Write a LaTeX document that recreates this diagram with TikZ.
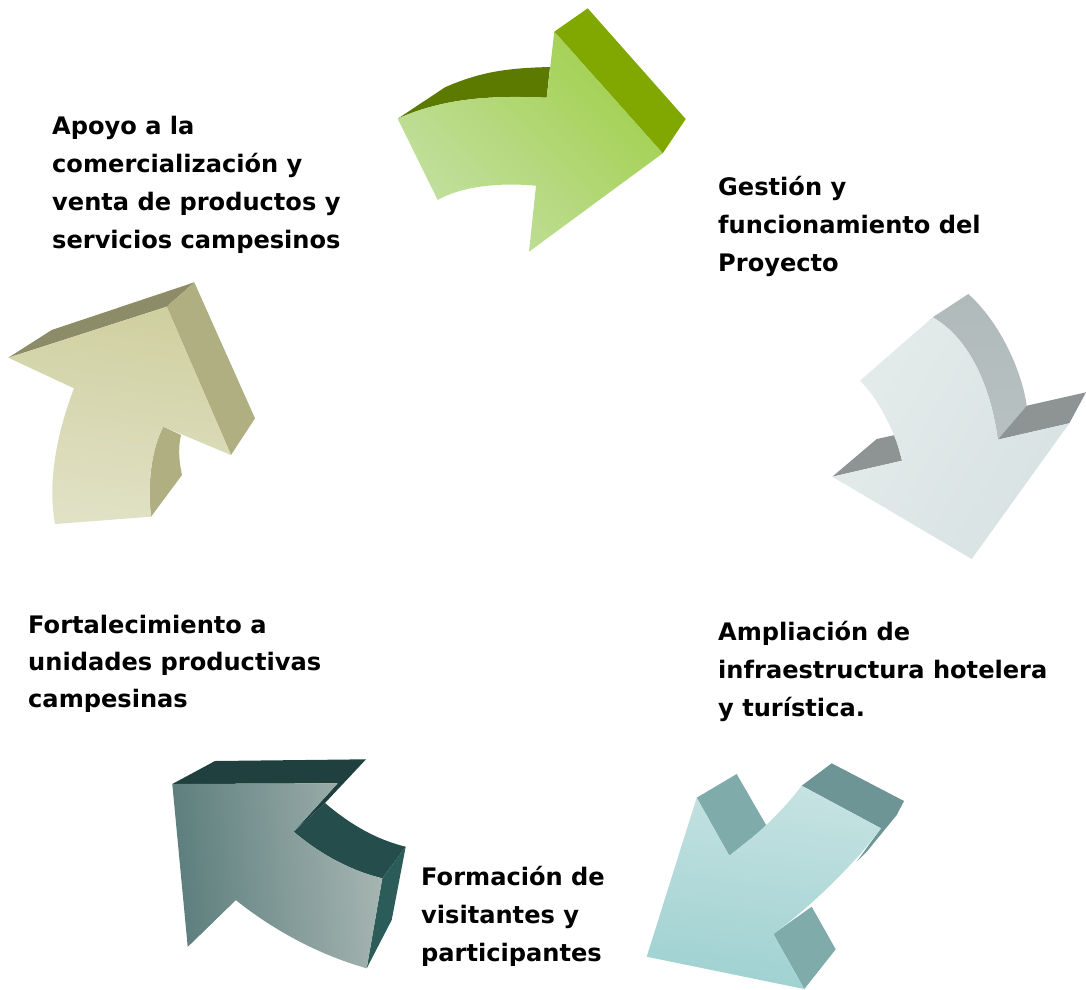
\documentclass[tikz,border=0pt]{standalone}
\usepackage{fontspec}
\setmainfont{DejaVu Sans}
\tikzset{
  x=1pt,y=-1pt,
  lab/.style={anchor=north west,inner sep=0pt,align=left,text=black,font=\bfseries\fontsize{24.1}{38}\selectfont}
}
\definecolor{gA}{HTML}{80A800}\definecolor{gB}{HTML}{5C7A00}\definecolor{gL}{HTML}{C3E0A2}\definecolor{gM}{HTML}{A2D04E}
\definecolor{sA}{HTML}{B0BABA}\definecolor{sB}{HTML}{8E9494}\definecolor{sL}{HTML}{E4EBEB}\definecolor{sM}{HTML}{D8E2E2}
\definecolor{tA}{HTML}{6D9595}\definecolor{tB}{HTML}{7FABAA}\definecolor{tL}{HTML}{C6E2E2}\definecolor{tM}{HTML}{9FD1D1}
\definecolor{dA}{HTML}{1F403F}\definecolor{dB}{HTML}{254D4B}\definecolor{dC}{HTML}{2C5C5A}\definecolor{dL}{HTML}{5B7D7C}\definecolor{dM}{HTML}{A6B5B2}
\definecolor{oA}{HTML}{AFAF82}\definecolor{oB}{HTML}{8C8C68}\definecolor{oL}{HTML}{CFD0A0}\definecolor{oM}{HTML}{E1E1C6}
\begin{document}
\begin{tikzpicture}
\useasboundingbox (0,0) rectangle (1086,989);
% green arrow
\fill[gB] (397.7,118.7) -- (445,87.3) .. controls (482,71) and (510,68) .. (550,67) -- (546.7,97.7) .. controls (497,95.6) and (446,96.7) .. (397.7,118.7) -- cycle;
\fill[gA] (554.3,31.7) -- (587.7,8.3) -- (685.7,119) -- (662.7,153.3) -- cycle;
\shade[left color=gL,right color=gM,shading angle=135] (397.7,118.7) .. controls (446,96.7) and (497,95.6) .. (546.7,97.7) -- (554.3,31.7) -- (662.7,153.3) -- (529,251.7) -- (536,185.7) .. controls (494.4,181.9) and (458.8,187.7) .. (437.7,200) -- cycle;
% grey arrow
\shade[top color=sA,bottom color=sA!90!white] (932.7,317.3) -- (968.3,294) .. controls (1000.4,322.7) and (1022.2,372.1) .. (1026.7,405.7) -- (997.7,439.7) .. controls (994.5,412) and (980.3,344.6) .. (932.7,317.3) -- cycle;
\fill[sB] (997.7,439.7) -- (1026.7,405.7) -- (1086,392.3) -- (1069.3,423.3) -- cycle;
\fill[sB] (832.3,476.7) -- (876.7,439) -- (895,435) -- (902,460.7) -- cycle;
\shade[left color=sL,right color=sM,shading angle=60] (932.7,317.3) -- (860,380.7) .. controls (880,400) and (897,437) .. (902,460.7) -- (832.3,476.7) -- (971.7,559) -- (1069.3,423.3) -- (997.7,439.7) .. controls (994.5,412) and (980.3,344.6) .. (932.7,317.3) -- cycle;
% teal arrow
\fill[tA] (801.7,785.7) -- (831.7,763.3) -- (904,801) -- (896.7,815) -- (866.7,851.7) -- (856.7,861.7) -- (881,828.3) -- cycle;
\fill[tB] (696.7,797.7) -- (736.7,774) -- (766.7,826) -- (729.3,855.7) -- cycle;
\fill[tB] (773.3,934) -- (811.7,906.7) -- (835.7,949.3) -- (804.3,989) -- cycle;
\shade[top color=tL,bottom color=tM,shading angle=-8] (801.7,785.7) -- (881,828.3) .. controls (858,860) and (812,906) .. (773.3,934) -- (804.3,989) -- (646.7,956.7) -- (696.7,797.7) -- (729.3,855.7) .. controls (757,835) and (781,813) .. (801.7,785.7) -- cycle;
% dark arrow
\fill[dA] (172.3,784) -- (215,761) -- (366,759.3) -- (325,803) -- (293.7,831.7) -- (337.7,783.3) -- cycle;
\fill[dB] (293.7,831.7) -- (325,803) .. controls (352,826) and (378,840) .. (405.7,846.7) -- (382.3,878.3) .. controls (352,871) and (321,855) .. (293.7,831.7) -- cycle;
\fill[dC] (382.3,878.3) -- (405.7,846.7) -- (391.7,920) -- (366.7,968.3) -- cycle;
\fill[dC] (187.7,946.7) -- (233,898) -- (235.7,900) -- cycle;
\shade[left color=dL,right color=dM,shading angle=95] (172.3,784) -- (337.7,783.3) -- (293.7,831.7) .. controls (321,855) and (352,871) .. (382.3,878.3) -- (366.7,968.3) .. controls (323,956) and (277,933) .. (235.7,900) -- (187.7,946.7) -- cycle;
% olive arrow
\fill[oB] (8.3,357.7) -- (51.7,330) -- (194.3,282.3) -- (166.7,306.7) -- cycle;
\fill[oA] (166.7,306.7) -- (194.3,282.3) -- (255,418.3) -- (231,455) -- cycle;
\fill[oA] (163.3,426.7) -- (181,435) .. controls (178,448) and (179,462) .. (182,475) -- (151,516.7) .. controls (147,480) and (152.5,447) .. (163.3,426.7) -- cycle;
\shade[top color=oL,bottom color=oM,shading angle=-8] (8.3,357.7) -- (166.7,306.7) -- (231,455) -- (163.3,426.7) .. controls (152.5,447) and (147,480) .. (151,516.7) -- (55,524) .. controls (47,480) and (58,430) .. (74,388.3) -- cycle;
% labels
\node[lab] (apoyo) at (52,115.5) {Apoyo a la\\comercialización y\\venta de productos y\\servicios campesinos};
\node[lab] (gestion) at (718,176.5) {Gestión y\\funcionamiento del\\Proyecto};
\node[lab] (ampliacion) at (718,621.5) {Ampliación de\\infraestructura hotelera\\y turística.};
\node[lab] (formacion) at (421,866.5) {Formación de\\visitantes y\\participantes};
\node[lab] (fortalec) at (28,615) {Fortalecimiento a\\[-1pt]unidades productivas\\[-1pt]campesinas};
\end{tikzpicture}
\end{document}
